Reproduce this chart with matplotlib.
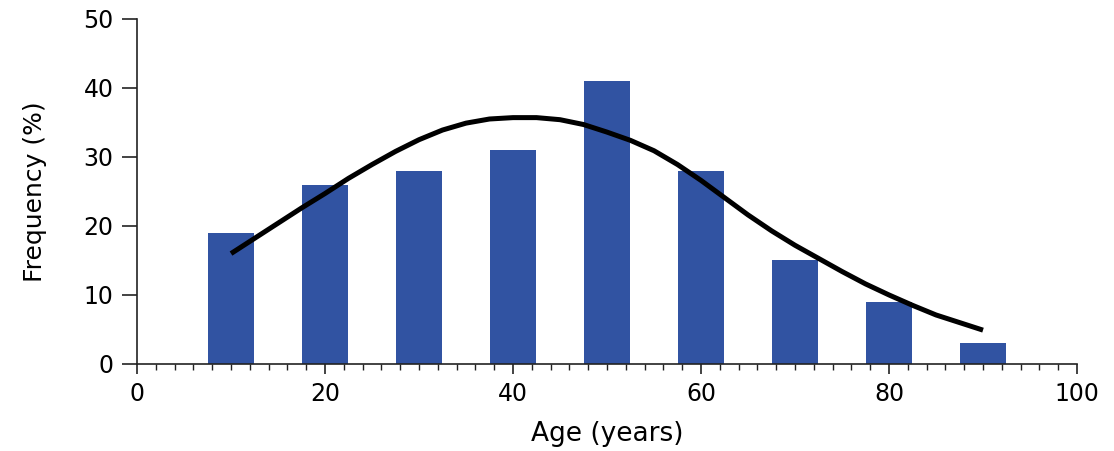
import matplotlib
matplotlib.use("Agg")
import matplotlib.pyplot as plt
from matplotlib.ticker import MultipleLocator

# age groups (bin centres) and share of patients in each, %
age_bins = [10, 20, 30, 40, 50, 60, 70, 80, 90]
frequency = [19, 26, 28, 31, 41, 28, 15, 9, 3]

# fitted distribution curve
curve_age = [10, 12.5, 15, 17.5, 20, 22.5, 25, 27.5, 30, 32.5, 35, 37.5,
             40, 42.5, 45, 47.5, 50, 52.5, 55, 57.5, 60, 62.5, 65, 67.5,
             70, 72.5, 75, 77.5, 80, 82.5, 85, 87.5, 90]
curve_freq = [16.0, 18.2, 20.4, 22.6, 24.7, 26.9, 28.9, 30.8, 32.5, 33.9,
              34.9, 35.5, 35.7, 35.7, 35.4, 34.7, 33.6, 32.4, 30.9, 28.9,
              26.6, 24.1, 21.6, 19.3, 17.2, 15.3, 13.4, 11.6, 10.0, 8.5,
              7.1, 6.0, 4.9]

bar_colour = '#3153A2'
axis_colour = '#222222'

fig = plt.figure(figsize=(11.14, 4.51), dpi=100)
ax = fig.add_axes([0.123, 0.193, 0.8438, 0.765])

ax.bar(age_bins, frequency, width=4.8, color=bar_colour, zorder=2)
ax.plot(curve_age, curve_freq, color='black', linewidth=3.6,
        solid_joinstyle='round', solid_capstyle='butt', zorder=3)

ax.set_xlim(0, 100)
ax.set_ylim(0, 50)
ax.xaxis.set_major_locator(MultipleLocator(20))
ax.xaxis.set_minor_locator(MultipleLocator(2))
ax.yaxis.set_major_locator(MultipleLocator(10))

for side in ('top', 'right'):
    ax.spines[side].set_visible(False)
for side in ('left', 'bottom'):
    ax.spines[side].set_color(axis_colour)
    ax.spines[side].set_linewidth(1.2)

ax.tick_params(axis='y', which='major', length=11, width=1.2,
               color=axis_colour, pad=6, labelsize=17)
ax.tick_params(axis='x', which='major', length=7, width=1.2,
               color=axis_colour, pad=6, labelsize=17)
ax.tick_params(axis='x', which='minor', length=4, width=1.0,
               color=axis_colour)

ax.set_xlabel('Age (years)', fontsize=19, labelpad=11)
ax.set_ylabel('Frequency (%)', fontsize=18, labelpad=26)

fig.savefig('out.png', dpi=100, facecolor='white')
